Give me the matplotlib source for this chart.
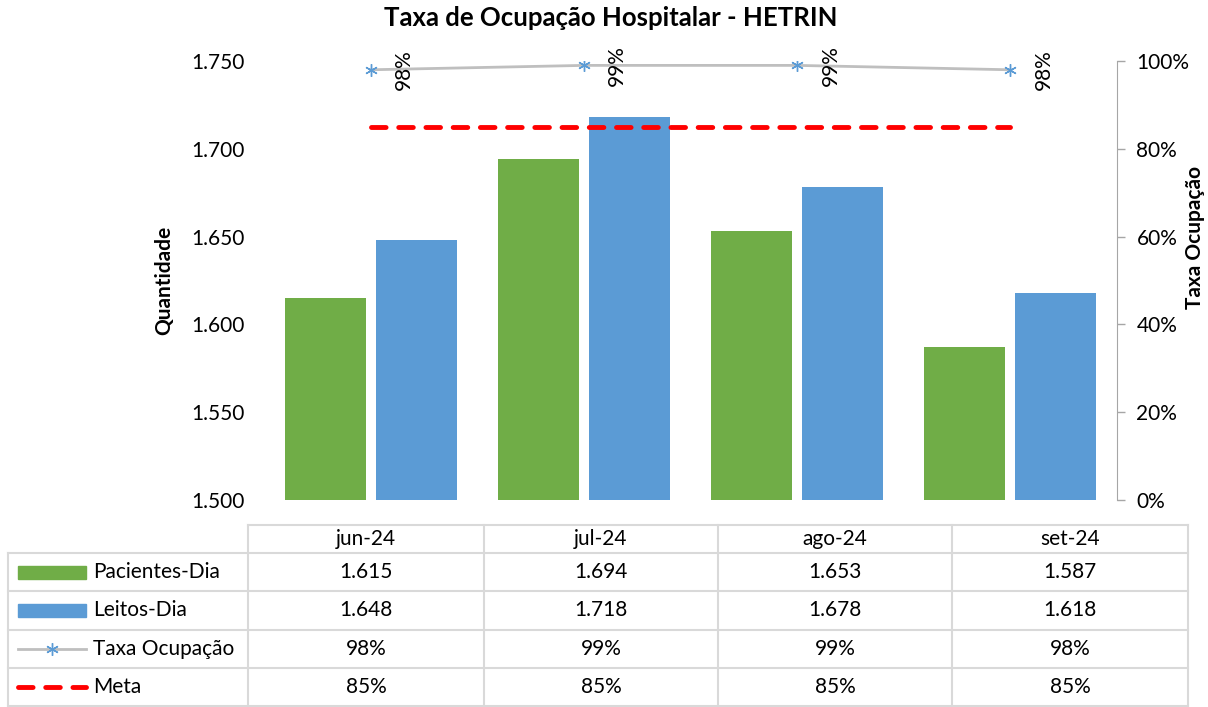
import matplotlib
matplotlib.use("Agg")
import matplotlib.pyplot as plt
import numpy as np

# ---------------- DATA ----------------
meses = ["jun-24", "jul-24", "ago-24", "set-24"]
pacientes_dia = [1615, 1694, 1653, 1587]
leitos_dia = [1648, 1718, 1678, 1618]
taxa_ocupacao = [0.98, 0.99, 0.99, 0.98]
meta = [0.85, 0.85, 0.85, 0.85]

VERDE = "#70ad47"
AZUL = "#5b9bd5"
CINZA = "#bfbfbf"
VERMELHO = "#ff0000"
GRADE = "#d9d9d9"

plt.rcParams["font.family"] = ["Lato", "DejaVu Sans"]
FS = 15


def fmt_milhar(v):
    return f"{v:,.0f}".replace(",", ".")


W, H = 1208, 707
fig = plt.figure(figsize=(W / 100, H / 100), dpi=100)


def px_rect(x0, y0, x1, y1):
    return [x0 / W, 1 - y1 / H, (x1 - x0) / W, (y1 - y0) / H]


# ---------------- MAIN CHART ----------------
ax = fig.add_axes(px_rect(264, 61, 1117, 500))
x = np.arange(len(meses))
bw = 0.38
ax.bar(x - 0.213, pacientes_dia, width=bw, color=VERDE, zorder=2)
ax.bar(x + 0.213, leitos_dia, width=bw, color=AZUL, zorder=2)
ax.set_xlim(-0.5, len(meses) - 0.5)
ax.set_ylim(1500, 1750)
ax.set_yticks(np.arange(1500, 1751, 50))
ax.set_yticklabels([fmt_milhar(v) for v in np.arange(1500, 1751, 50)], fontsize=FS)
ax.tick_params(axis="y", length=0, pad=14)
ax.set_xticks([])
for s in ["top", "bottom", "left", "right"]:
    ax.spines[s].set_visible(False)
ax.set_ylabel("Quantidade", fontsize=FS, fontweight="bold", labelpad=12)

ax2 = ax.twinx()
ax2.set_ylim(0, 1)
ax2.set_yticks(np.arange(0, 1.01, 0.2))
ax2.set_yticklabels([f"{int(round(v * 100))}%" for v in np.arange(0, 1.01, 0.2)], fontsize=FS)
ax2.tick_params(axis="y", length=6, width=1, color="#a6a6a6", pad=8)
for s in ["top", "bottom", "left"]:
    ax2.spines[s].set_visible(False)
ax2.spines["right"].set_color("#a6a6a6")

# right axis title (placed by hand so it stays inside the figure)
fig.text(1195 / W, 1 - 237 / H, "Taxa Ocupação", rotation=90, ha="center", va="center",
         fontsize=FS, fontweight="bold")

ax2.plot(x, taxa_ocupacao, color=CINZA, lw=2, marker=(6, 2, 0), ms=9,
         mec=AZUL, mfc=AZUL, mew=1.0, zorder=3)
for xi, v in zip(x, taxa_ocupacao):
    ax2.annotate(f"{v:.0%}", (xi, v), xytext=(24, 0), textcoords="offset points",
                 rotation=90, ha="center", va="center", fontsize=FS)
ax2.plot(x, meta, color=VERMELHO, lw=3.5, ls=(0, (3, 2.6)), dash_capstyle="round", zorder=3)

fig.text(611 / W, 1 - 18 / H, "Taxa de Ocupação Hospitalar - HETRIN",
         ha="center", va="center", fontsize=18.5, fontweight="bold")

# ---------------- DATA TABLE ----------------
tb = fig.add_axes([0, 0, 1, 1], zorder=-1)
tb.set_xlim(0, W)
tb.set_ylim(H, 0)
tb.axis("off")
tb.patch.set_alpha(0)

col_x = [248, 484, 718, 952, 1188]
row_y = [525, 553, 591, 630, 668, 706]
left_x = 8
lw_grid = 1.5

# horizontal lines
tb.plot([col_x[0], col_x[-1]], [row_y[0], row_y[0]], color=GRADE, lw=lw_grid)
for yy in row_y[1:]:
    tb.plot([left_x, col_x[-1]], [yy, yy], color=GRADE, lw=lw_grid)
# vertical lines
for xx in col_x:
    tb.plot([xx, xx], [row_y[0], row_y[-1]], color=GRADE, lw=lw_grid)
tb.plot([left_x, left_x], [row_y[1], row_y[-1]], color=GRADE, lw=lw_grid)

linhas = [
    [fmt_milhar(v) for v in pacientes_dia],
    [fmt_milhar(v) for v in leitos_dia],
    [f"{v:.0%}" for v in taxa_ocupacao],
    [f"{v:.0%}" for v in meta],
]
nomes = ["Pacientes-Dia", "Leitos-Dia", "Taxa Ocupação", "Meta"]

for j, m in enumerate(meses):
    cx = (col_x[j] + col_x[j + 1]) / 2
    tb.text(cx, (row_y[0] + row_y[1]) / 2, m, ha="center", va="center", fontsize=FS)
    for i, linha in enumerate(linhas):
        cy = (row_y[i + 1] + row_y[i + 2]) / 2
        tb.text(cx, cy, linha[j], ha="center", va="center", fontsize=FS)

# legend keys in the first column
for i, nome in enumerate(nomes):
    cy = (row_y[i + 1] + row_y[i + 2]) / 2
    tb.text(93, cy, nome, ha="left", va="center", fontsize=FS)
    if i == 0:
        tb.add_patch(plt.Rectangle((18, cy - 6.5), 68, 13, color=VERDE))
    elif i == 1:
        tb.add_patch(plt.Rectangle((18, cy - 6.5), 68, 13, color=AZUL))
    elif i == 2:
        tb.plot([18, 86], [cy, cy], color=CINZA, lw=2)
        tb.plot([52], [cy], marker=(6, 2, 0), ms=9, mec=AZUL, mew=1.0)
    else:
        tb.plot([18, 86], [cy, cy], color=VERMELHO, lw=3.5, ls=(0, (3, 2.6)),
                dash_capstyle="round")

fig.savefig("out.png", dpi=100)
